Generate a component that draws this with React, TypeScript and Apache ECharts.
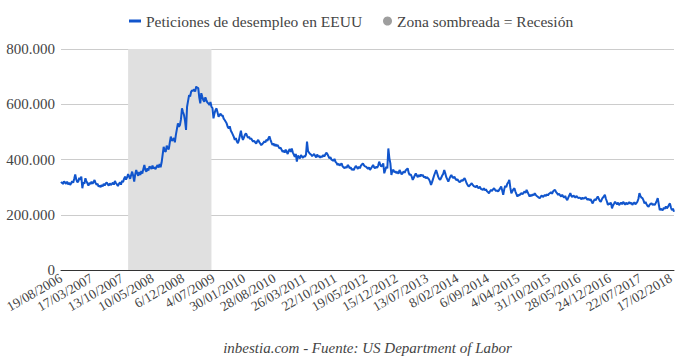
import React, { useEffect, useRef } from "react";
import * as echarts from "echarts";

// Weekly initial jobless claims (thousands), from 19/08/2006
const claimsK: number[] = [
  314, 318, 311, 321, 317, 312, 320, 310, 316, 308,
  314, 322, 316, 330, 346, 328, 318, 320, 334, 327,
  338, 296, 318, 312, 332, 322, 314, 305, 316, 311,
  320, 312, 318, 326, 315, 309, 312, 302, 306, 300,
  308, 303, 312, 306, 313, 317, 310, 305, 314, 308,
  311, 316, 309, 322, 315, 310, 304, 312, 317, 309,
  323, 318, 330, 338, 327, 335, 347, 339, 330, 344,
  356, 341, 320, 346, 362, 350, 341, 355, 344, 358,
  349, 366, 380, 362, 356, 368, 360, 375, 372, 366,
  378, 368, 372, 365, 374, 380, 371, 384, 372, 390,
  418, 446, 431, 428, 450, 440, 437, 461, 483, 468,
  471, 478, 462, 489, 510, 531, 518, 525, 545, 585,
  572, 561, 540, 507, 591, 612, 633, 628, 645, 651,
  648, 654, 646, 664, 660, 658, 625, 603, 640, 627,
  615, 609, 625, 615, 606, 603, 597, 608, 591, 586,
  549, 567, 579, 585, 570, 555, 561, 566, 558, 560,
  548, 543, 537, 530, 518, 513, 520, 505, 498, 490,
  482, 471, 478, 465, 459, 470, 488, 504, 482, 471,
  480, 490, 495, 486, 478, 483, 474, 477, 470, 465,
  468, 462, 458, 466, 471, 463, 458, 452, 456, 460,
  466, 462, 471, 468, 476, 484, 472, 462, 453, 458,
  449, 455, 448, 453, 446, 440, 443, 435, 428, 432,
  425, 436, 428, 420, 432, 438, 427, 440, 426, 418,
  410, 420, 392, 414, 408, 404, 416, 411, 406, 412,
  410, 418, 465, 430, 425, 420, 418, 412, 416, 420,
  413, 408, 418, 410, 414, 406, 412, 409, 416, 411,
  418, 425, 420, 412, 404, 408, 400, 398, 395, 402,
  392, 388, 380, 385, 378, 382, 386, 375, 372, 368,
  374, 370, 380, 376, 368, 372, 362, 366, 362, 370,
  377, 372, 366, 374, 368, 378, 382, 386, 379, 375,
  374, 370, 366, 372, 362, 368, 374, 380, 372, 368,
  374, 370, 378, 392, 382, 374, 378, 386, 350, 362,
  374, 368, 440, 405, 386, 344, 360, 362, 354, 358,
  350, 356, 348, 362, 355, 346, 350, 357, 352, 360,
  364, 368, 352, 344, 346, 338, 326, 334, 342, 350,
  342, 336, 344, 338, 346, 340, 344, 335, 338, 332,
  336, 332, 328, 320, 308, 318, 330, 342, 352, 362,
  350, 338, 330, 326, 334, 342, 348, 362, 350, 336,
  328, 320, 330, 338, 344, 336, 333, 338, 330, 325,
  328, 322, 318, 320, 326, 322, 328, 332, 324, 314,
  308, 302, 306, 310, 314, 308, 304, 302, 300, 306,
  298, 296, 302, 294, 292, 290, 296, 288, 292, 285,
  282, 278, 285, 290, 286, 292, 296, 290, 286, 288,
  284, 290, 296, 302, 288, 272, 292, 305, 300, 312,
  318, 326, 298, 278, 285, 292, 296, 284, 275, 266,
  272, 270, 276, 278, 274, 280, 284, 279, 290, 282,
  274, 266, 272, 268, 274, 270, 278, 272, 268, 265,
  262, 260, 266, 270, 264, 268, 272, 268, 274, 270,
  276, 278, 282, 276, 284, 288, 290, 282, 278, 272,
  276, 270, 266, 272, 266, 262, 268, 258, 253, 262,
  270, 278, 268, 264, 270, 266, 262, 268, 264, 260,
  262, 260, 256, 262, 258, 260, 264, 258, 254, 258,
  253, 256, 248, 241, 250, 256, 252, 260, 266, 258,
  250, 247, 256, 262, 266, 272, 258, 248, 235, 242,
  238, 244, 223, 234, 240, 247, 242, 238, 244, 235,
  240, 244, 238, 247, 242, 236, 244, 238, 241, 246,
  240, 244, 236, 241, 245, 238, 242, 247, 258, 278,
  268, 262, 260, 252, 241, 246, 238, 232, 229, 236,
  240, 241, 236, 238, 235, 242, 250, 260, 238, 217,
  222, 218, 217, 226, 221, 230, 223, 228, 236, 241,
  226, 217, 222, 211,
];

const startDate = { year: 2006, month: 8, day: 19 };
const labelEveryWeeks = 30;
const recessionStart = "24/11/2007";
const recessionEnd = "20/06/2009";
const yTicksK = [0, 200, 400, 600, 800];

const seriesName = "Peticiones de desempleo en EEUU";
const recessionName = "Zona sombreada = Recesión";
const footer = "inbestia.com - Fuente: US Department of Labor";

function weekDates(n: number): string[] {
  const out: string[] = [];
  const base = Date.UTC(startDate.year, startDate.month - 1, startDate.day);
  for (let i = 0; i < n; i++) {
    const d = new Date(base + i * 7 * 86400000);
    const dd = d.getUTCDate();
    const mm = String(d.getUTCMonth() + 1).padStart(2, "0");
    out.push(`${dd}/${mm}/${d.getUTCFullYear()}`);
  }
  return out;
}

const FONT = "'Liberation Serif', 'Times New Roman', serif";

export default function App() {
  const ref = useRef<HTMLDivElement>(null);
  useEffect(() => {
    if (!ref.current) return;
    const chart = echarts.init(ref.current, undefined, { renderer: "svg" });
    const dates = weekDates(claimsK.length);
    const legendText = { fontFamily: FONT, fontSize: 15.5, color: "#444", lineHeight: 16 };
    chart.setOption({
      animation: false,
      backgroundColor: "#ffffff",
      textStyle: { fontFamily: FONT },
      grid: { left: 61, right: 6, top: 49, bottom: 94, containLabel: false },
      legend: [
        {
          data: [{ name: seriesName, icon: "rect" }],
          left: 124,
          top: 8,
          itemWidth: 12,
          itemHeight: 3,
          selectedMode: false,
          textStyle: legendText,
        },
        {
          data: [{ name: recessionName, icon: "circle" }],
          left: 378,
          top: 8,
          itemWidth: 9,
          itemHeight: 9,
          selectedMode: false,
          textStyle: legendText,
        },
      ],
      xAxis: {
        type: "category",
        data: dates,
        boundaryGap: false,
        name: footer,
        nameLocation: "middle",
        nameGap: 70,
        nameTextStyle: {
          fontFamily: FONT,
          fontStyle: "italic",
          fontSize: 15,
          color: "#444",
        },
        axisLine: { lineStyle: { color: "#333", width: 1 } },
        axisTick: { show: false },
        axisLabel: {
          interval: (i: number) => i % labelEveryWeeks === 0,
          showMinLabel: true,
          showMaxLabel: true,
          hideOverlap: false,
          rotate: 30,
          fontSize: 13.5,
          color: "#444",
          margin: 7,
          fontFamily: FONT,
        },
        splitLine: { show: false },
      },
      yAxis: {
        type: "value",
        min: yTicksK[0],
        max: yTicksK[yTicksK.length - 1],
        interval: 200,
        axisLine: { show: false },
        axisTick: { show: false },
        axisLabel: {
          fontSize: 15,
          color: "#444",
          margin: 6,
          fontFamily: FONT,
          formatter: (v: number) => (v === 0 ? "0" : `${v}.000`),
        },
        splitLine: { lineStyle: { color: "#cccccc", width: 1 } },
      },
      series: [
        {
          name: seriesName,
          type: "line",
          data: claimsK,
          showSymbol: false,
          symbol: "none",
          color: "#1155cc",
          lineStyle: { width: 2, color: "#1155cc" },
          z: 3,
          markArea: {
            silent: true,
            itemStyle: { color: "#e0e0e0" },
            data: [[{ xAxis: recessionStart }, { xAxis: recessionEnd }]],
          },
        },
        {
          name: recessionName,
          type: "line",
          data: [],
          color: "#9e9e9e",
        },
      ],
    });
    return () => chart.dispose();
  }, []);
  return (
    <div
      ref={ref}
      style={{ position: "fixed", left: 0, top: 0, width: 680, height: 364 }}
    />
  );
}
